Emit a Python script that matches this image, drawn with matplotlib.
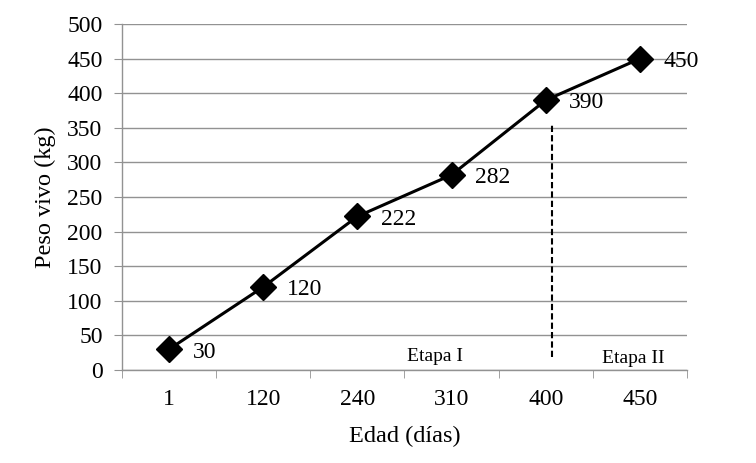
import matplotlib
matplotlib.use("Agg")
import matplotlib.pyplot as plt
import numpy as np

categories = ["1", "120", "240", "310", "400", "450"]
weights = [30, 120, 222, 282, 390, 450]
y_ticks = [0, 50, 100, 150, 200, 250, 300, 350, 400, 450, 500]
stage_labels = ["Etapa I", "Etapa II"]

plt.rcParams['font.family'] = ['Liberation Serif', 'DejaVu Serif']

fig = plt.figure(figsize=(7.56, 4.63), dpi=100)
ax = fig.add_axes([0.1614, 0.2009, 0.9087 - 0.1614, 0.948 - 0.2009])

x = np.arange(len(categories))
ax.set_xlim(-0.5, len(categories) - 0.5)
ax.set_ylim(0, 500)
ax.set_yticks(y_ticks)
ax.yaxis.grid(True, color='#929292', linewidth=1.0)
ax.set_axisbelow(True)

ax.plot(x, weights, color='black', linewidth=2.2, marker='D', markersize=13,
        markerfacecolor='black', markeredgecolor='black', zorder=3)

for xi, w in zip(x, weights):
    ax.annotate(str(w), (xi, w), xytext=(17, -2), textcoords='offset points',
                ha='left', va='center', fontsize=17)

# stage divider
ax.plot([4.07, 4.07], [19, 354], color='black', linestyle=(0, (3, 1.5)), linewidth=1.5, zorder=2)
ax.text(2.82, 20, stage_labels[0], ha='center', va='center', fontsize=14)
ax.text(4.93, 17, stage_labels[1], ha='center', va='center', fontsize=14)

ax.set_xticks(x)
ax.set_xticklabels(categories, fontsize=17)
ax.set_xticks(np.arange(-0.5, len(categories), 1.0), minor=True)
ax.tick_params(axis='x', which='major', length=0, pad=14)
ax.tick_params(axis='x', which='minor', length=6, color='#929292', direction='out')
ax.tick_params(axis='y', which='major', length=6, color='#929292', labelsize=17, pad=8)

for s in ['top', 'right']:
    ax.spines[s].set_visible(False)
for s in ['left', 'bottom']:
    ax.spines[s].set_color('#929292')
    ax.spines[s].set_linewidth(1.0)

ax.set_xlabel("Edad (días)", fontsize=17.5, labelpad=11)
ax.set_ylabel("Peso vivo (kg)", fontsize=17.5, labelpad=8)

fig.savefig("out.png", dpi=100)
